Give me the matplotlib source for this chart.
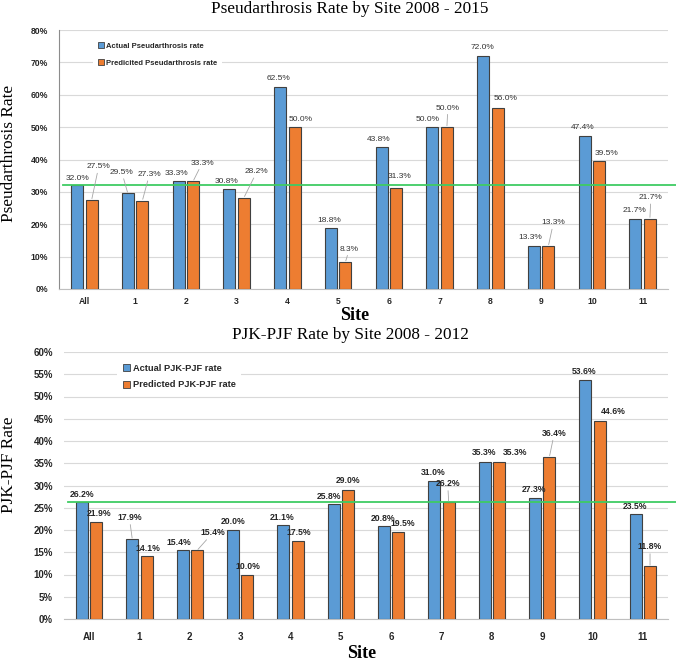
import numpy as np
import matplotlib
matplotlib.use('Agg')
from matplotlib import pyplot as plt
from matplotlib.patches import Patch
from matplotlib.ticker import PercentFormatter

# Data
sites = ['All', '1', '2', '3', '4', '5', '6', '7', '8', '9', '10', '11']

pseud_actual = [32.0, 29.5, 33.3, 30.8, 62.5, 18.8, 43.8, 50.0, 72.0, 13.3, 47.4, 21.7]
pseud_pred = [27.5, 27.3, 33.3, 28.2, 50.0, 8.3, 31.3, 50.0, 56.0, 13.3, 39.5, 21.7]
pseud_ref = 32.0

pjk_actual = [26.2, 17.9, 15.4, 20.0, 21.1, 25.8, 20.8, 31.0, 35.3, 27.3, 53.6, 23.5]
pjk_pred = [21.9, 14.1, 15.4, 10.0, 17.5, 29.0, 19.5, 26.2, 35.3, 36.4, 44.6, 11.8]
pjk_ref = 26.2

# label offsets in pixels (dx, dy) from the bar top
off_top_a = [(0, 7), (-6, 21), (-2, 8), (-3, 8), (-2, 8), (-2, 8), (-3, 8), (-5, 8), (-1, 8), (-4, 8), (-2, 8), (-1, 8)]
off_top_p = [(7, 33), (7, 26), (9, 18), (13, 26), (6, 8), (4, 13), (3, 11), (1, 19), (8, 9), (5, 23), (7, 8), (1, 21)]
off_bot_a = [(0, 8), (-3, 22), (-4, 8), (0, 8), (-1, 8), (-5, 8), (-1, 8), (-1, 9), (-1, 9), (-1, 8), (-1, 9), (-1, 8)]
off_bot_p = [(3, 8), (1, 8), (16, 18), (1, 8), (1, 9), (0, 9), (4, 9), (-1, 19), (16, 9), (5, 24), (14, 9), (0, 20)]

W, H = 676, 662
BLUE = '#5B9BD5'
ORANGE = '#ED7D31'
GREEN = '#3FCB63'
SANS = 'Liberation Sans'
SERIF = 'Liberation Serif'

fig = plt.figure(figsize=(W / 100, H / 100), dpi=100)


def px(x0, y0, x1, y1):
    return [x0 / W, 1 - y1 / H, (x1 - x0) / W, (y1 - y0) / H]


def panel(ax, actual, pred, ref, ymax, ystep, offs_a, offs_p, labels, lab_fs, lab_weight,
          lab_color, tick_fs, leg_fs, leg_anchor, leg_spacing, left_spine, xtick_pad):
    x = np.arange(len(sites))
    w = 0.235
    d = 0.143
    ax.bar(x - d, actual, w, color=BLUE, edgecolor='#404040', linewidth=0.8, zorder=3)
    ax.bar(x + d, pred, w, color=ORANGE, edgecolor='#404040', linewidth=0.8, zorder=3)

    for vals, offs, sign in ((actual, offs_a, -1), (pred, offs_p, 1)):
        for i, (v, (dx, dy)) in enumerate(zip(vals, offs)):
            arrow = None
            if dy > 12:
                arrow = dict(arrowstyle='-', color='#A6A6A6', lw=0.6, shrinkA=0, shrinkB=1)
            ax.annotate(f'{v:.1f}%', (i + sign * d, v), xytext=(dx, dy), textcoords='offset pixels',
                        ha='center', va='center', fontsize=lab_fs, fontweight=lab_weight,
                        color=lab_color, family=SANS, arrowprops=arrow, zorder=5)

    ax.plot([0.006, 1.013], [ref, ref], transform=ax.get_yaxis_transform(), color=GREEN,
            lw=1.3, clip_on=False, zorder=4)

    ax.set_xlim(-0.5, len(sites) - 0.5)
    ax.set_ylim(0, ymax)
    ax.set_yticks(np.arange(0, ymax + 0.1, ystep))
    ax.yaxis.set_major_formatter(PercentFormatter(decimals=0))
    ax.set_xticks(x)
    ax.set_xticklabels(sites)
    ax.tick_params(length=0, labelsize=tick_fs, colors='#262626')
    ax.tick_params(axis='y', pad=8)
    ax.tick_params(axis='x', pad=xtick_pad)
    for t in ax.get_xticklabels() + ax.get_yticklabels():
        t.set_fontweight('bold')
        t.set_family(SANS)
    ax.grid(axis='y', color='#D9D9D9', lw=0.8, zorder=0)
    ax.set_axisbelow(True)
    for s in ('top', 'right'):
        ax.spines[s].set_visible(False)
    ax.spines['bottom'].set_color('#BFBFBF')
    ax.spines['left'].set_color('#8C8C8C')
    ax.spines['left'].set_visible(left_spine)

    handles = [Patch(facecolor=BLUE, edgecolor='#404040', lw=0.6),
               Patch(facecolor=ORANGE, edgecolor='#404040', lw=0.6)]
    leg = ax.legend(handles, labels, loc='upper left', bbox_to_anchor=leg_anchor,
                    prop=dict(family=SANS, weight='bold', size=leg_fs),
                    handlelength=0.8, handleheight=0.8, handletextpad=0.3,
                    labelspacing=leg_spacing, borderpad=0.6, fancybox=False,
                    framealpha=1, edgecolor='none', facecolor='white')
    leg.set_zorder(2)
    for t in leg.get_texts():
        t.set_color('#262626')


ax1 = fig.add_axes(px(59, 30, 668, 289))
panel(ax1, pseud_actual, pseud_pred, pseud_ref, 80, 10, off_top_a, off_top_p,
      ['Actual Pseudarthrosis rate', 'Predicited Pseudarthrosis rate'],
      6.0, 'normal', '#333333', 6.2, 5.5, (0.05, 0.985), 1.2, True, 6)

ax2 = fig.add_axes(px(64, 352, 668, 619))
panel(ax2, pjk_actual, pjk_pred, pjk_ref, 60, 5, off_bot_a, off_bot_p,
      ['Actual PJK-PJF rate', 'Predicted PJK-PJF rate'],
      6.2, 'bold', '#262626', 7.0, 6.7, (0.08, 0.995), 0.85, False, 9)

fig.text(350 / W, 1 - 9 / H, 'Pseudarthrosis Rate by Site 2008 - 2015', ha='center', va='center',
         family=SERIF, fontsize=12.4)
fig.text(350 / W, 1 - 335 / H, 'PJK-PJF Rate by Site 2008 - 2012', ha='center', va='center',
         family=SERIF, fontsize=12.4)
fig.text(9 / W, 1 - 153 / H, 'Pseudarthrosis Rate', rotation=90, ha='center', va='center',
         family=SERIF, fontsize=12.4)
fig.text(9 / W, 1 - 465 / H, 'PJK-PJF Rate', rotation=90, ha='center', va='center',
         family=SERIF, fontsize=12.4)
fig.text(355 / W, 1 - 315 / H, 'Site', ha='center', va='center', family=SERIF,
         fontsize=13, fontweight='bold')
fig.text(362 / W, 1 - 653 / H, 'Site', ha='center', va='center', family=SERIF,
         fontsize=13, fontweight='bold')

fig.savefig('out.png', dpi=100, facecolor='white')
